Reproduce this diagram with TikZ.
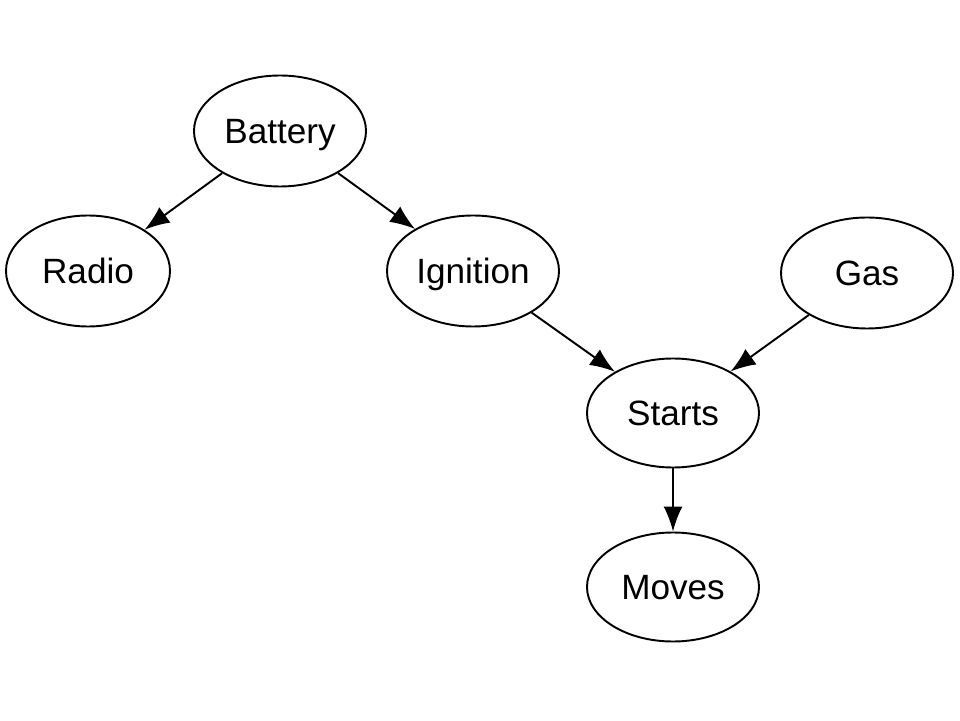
\documentclass[tikz,border=0pt]{standalone}
\usepackage{fontspec}
\setmainfont{Liberation Sans}
\usepackage{tikz}
\usetikzlibrary{shapes.geometric}
\usetikzlibrary{arrows.meta}
\tikzstyle{every node}=[font=\fontsize{20}{24}\selectfont]
\tikzstyle{var}=[ellipse,draw,line width=1.1pt,inner sep=0pt,text height=14.3pt,text depth=0pt,minimum width=3.44cm,minimum height=2.22cm]
\tikzstyle{dep}=[-{Latex[length=0.5cm,width=0.38cm]},line width=1.1pt]

\begin{document}
\begin{tikzpicture}
        \useasboundingbox (0,0) rectangle (19.2,14.4);

        \node [var] (Battery) at (5.6, 11.78) {Battery};
        \node [var,minimum width=3.28cm] (Radio) at (1.76, 8.98) {Radio};
        \node [var] (Ignition) at (9.46, 8.98) {Ignition};
        \node [var] (Gas) at (17.34, 8.94) {Gas};
        \node [var,minimum height=2.18cm] (Starts) at (13.46, 6.14) {Starts};
        \node [var,minimum height=2.18cm] (Moves) at (13.46, 2.66) {Moves};

        \draw [dep] (Battery) -- (Radio);
        \draw [dep] (Battery) -- (Ignition);
        \draw [dep] (Ignition) -- (Starts);
        \draw [dep] (Gas) -- (Starts);
        \draw [dep] (Starts) -- (Moves);
    \end{tikzpicture}
\end{document}
